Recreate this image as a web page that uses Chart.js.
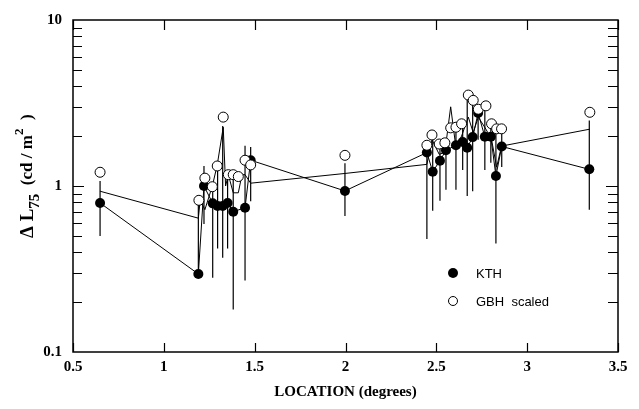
<!DOCTYPE html>
<html><head><meta charset="utf-8">
<script src="https://cdn.jsdelivr.net/npm/chart.js@4.4.0/dist/chart.umd.min.js"></script>
<style>html,body{margin:0;padding:0;background:#fff;}canvas{display:block;}</style>
</head><body>
<canvas id="c" width="639" height="409"></canvas>
<script>
// ---- data ----
const xTickValues = [0.5, 1, 1.5, 2, 2.5, 3, 3.5];
const yTickValues = [0.1, 1, 10];

const kthX  = [0.649, 1.19, 1.221, 1.269, 1.296, 1.324, 1.351, 1.382, 1.447, 1.478, 1.997,
               2.448, 2.48, 2.52, 2.553, 2.608, 2.645, 2.67, 2.70, 2.73, 2.767, 2.80, 2.828, 2.86, 3.342];
const kthY  = [0.79, 0.295, 1.0, 0.786, 0.758, 0.758, 0.79, 0.70, 0.74, 1.43, 0.934,
               1.59, 1.22, 1.42, 1.64, 1.76, 1.84, 1.70, 1.97, 2.75, 1.98, 1.98, 1.15, 1.73, 1.26];
const kthLo = [0.50, 0.295, 0.59, 0.28, 0.42, 0.37, 0.42, 0.18, 0.27, 0.81, 0.66,
               0.48, 0.71, 0.815, 0.95, 0.95, 1.25, 0.87, 0.93, 1.9, 1.25, 1.38, 0.45, 1.3, 0.72];
const kthHi = [1.07, 0.80, 1.32, 0.99, 1.30, 2.30, 1.15, 1.15, 1.75, 1.72, 1.37,
               1.75, 2.0, 1.79, 1.82, 2.24, 2.37, 3.4, 3.2, 2.9, 3.0, 2.37, 2.2, 2.2, 2.48];

const gbhX = [0.649, 1.193, 1.226, 1.267, 1.294, 1.327, 1.355, 1.382, 1.41, 1.447, 1.478, 1.997,
              2.448, 2.476, 2.516, 2.547, 2.579, 2.608, 2.639, 2.676, 2.703, 2.731, 2.773, 2.804, 2.832, 2.859, 3.345];
const gbhY = [1.21, 0.82, 1.115, 0.99, 1.32, 2.60, 1.17, 1.17, 1.14, 1.43, 1.34, 1.53,
              1.76, 2.03, 1.79, 1.82, 2.24, 2.26, 2.37, 3.53, 3.28, 2.90, 3.04, 2.37, 2.21, 2.21, 2.78];

const refX = [0.649, 1.19, 1.20, 1.226, 1.267, 1.294, 1.327, 1.34, 1.355, 1.382, 1.41, 1.43, 1.447, 1.478, 1.997,
              2.448, 2.476, 2.516, 2.547, 2.579, 2.608, 2.639, 2.676, 2.703, 2.731, 2.773, 2.804, 2.832, 2.859, 3.345];
const refY = [0.93, 0.64, 0.82, 0.72, 1.0, 1.34, 2.26, 1.0, 1.17, 0.91, 0.91, 1.17, 1.17, 1.04, 1.19,
              1.35, 1.9, 1.55, 1.6, 3.0, 1.7, 2.0, 2.6, 2.1, 2.6, 2.2, 1.9, 1.3, 1.74, 2.2];

const seriesNames = ['KTH', 'GBH  scaled'];
const xTitle = 'LOCATION (degrees)';

const pts = (xs, ys) => xs.map((x, i) => ({x: x, y: ys[i]}));

const serif = '"Liberation Serif", "Times New Roman", serif';
const sans = '"Liberation Sans", Arial, sans-serif';

// error bars
const errorBars = {
  id: 'errorBars',
  beforeDatasetsDraw(chart) {
    const {ctx, scales: {x, y}} = chart;
    ctx.save();
    ctx.beginPath();
    ctx.rect(chart.chartArea.left, chart.chartArea.top, chart.chartArea.width, chart.chartArea.height);
    ctx.clip();
    ctx.strokeStyle = '#000';
    ctx.lineWidth = 1.2;
    kthX.forEach((v, i) => {
      const px = x.getPixelForValue(v);
      ctx.beginPath();
      ctx.moveTo(px, y.getPixelForValue(kthLo[i]));
      ctx.lineTo(px, y.getPixelForValue(kthHi[i]));
      ctx.stroke();
    });
    ctx.restore();
  }
};

// frame, inward ticks, legend and y-title
const decor = {
  id: 'decor',
  afterDraw(chart) {
    const {ctx, chartArea: a, scales: {x, y}} = chart;
    ctx.save();
    ctx.strokeStyle = '#000';
    ctx.lineWidth = 1.5;
    ctx.strokeRect(a.left, a.top, a.right - a.left, a.bottom - a.top);
    ctx.lineWidth = 1.2;
    ctx.beginPath();
    xTickValues.forEach(v => {
      const px = Math.round(x.getPixelForValue(v)) + 0.5;
      ctx.moveTo(px, a.bottom); ctx.lineTo(px, a.bottom - 9);
      ctx.moveTo(px, a.top); ctx.lineTo(px, a.top + 10);
    });
    [0.1, 1].forEach(d => {
      for (let k = 1; k <= 9; k++) {
        if (d === 0.1 && k === 1) continue;
        const py = Math.round(y.getPixelForValue(k * d)) + 0.5;
        const len = k === 1 ? 11 : 9;
        ctx.moveTo(a.left, py); ctx.lineTo(a.left + len, py);
        ctx.moveTo(a.right, py); ctx.lineTo(a.right - len - 1, py);
      }
    });
    ctx.stroke();

    // legend
    ctx.fillStyle = '#000';
    ctx.beginPath(); ctx.arc(453, 273, 5, 0, Math.PI * 2); ctx.fill();
    ctx.fillStyle = '#fff'; ctx.lineWidth = 1;
    ctx.beginPath(); ctx.arc(453, 301, 4.5, 0, Math.PI * 2); ctx.fill(); ctx.stroke();
    ctx.fillStyle = '#000';
    ctx.font = '13px ' + sans;
    ctx.textBaseline = 'middle';
    ctx.textAlign = 'left';
    ctx.fillText(seriesNames[0], 476, 274);
    ctx.fillText(seriesNames[1], 476, 302);

    // y title with sub/superscripts
    ctx.translate(33, 238);
    ctx.rotate(-Math.PI / 2);
    ctx.textBaseline = 'alphabetic';
    const segs = [
      {t: '\u0394 L', f: 'bold 19px ' + serif, dy: 0},
      {t: '75', f: 'bold 15px ' + serif, dy: 6},
      {t: '  (cd / m', f: 'bold 17px ' + serif, dy: -1},
      {t: '2', f: 'bold 13px ' + serif, dy: -10},
      {t: '  )', f: 'bold 17px ' + serif, dy: -1}
    ];
    let cx = 0;
    segs.forEach(s => {
      ctx.font = s.f;
      ctx.fillText(s.t, cx, s.dy);
      cx += ctx.measureText(s.t).width;
    });
    ctx.restore();
  }
};

new Chart(document.getElementById('c'), {
  type: 'scatter',
  data: {
    datasets: [
      {
        label: seriesNames[1], data: pts(gbhX, gbhY), order: 0, showLine: false,
        pointRadius: 5, pointBackgroundColor: '#fff', pointBorderColor: '#000', pointBorderWidth: 1
      },
      {
        label: seriesNames[0], data: pts(kthX, kthY), order: 1, showLine: true,
        borderColor: '#000', borderWidth: 1, pointRadius: 5,
        pointBackgroundColor: '#000', pointBorderColor: '#000', pointBorderWidth: 0
      },
      {
        label: 'ref', data: pts(refX, refY), order: 2, showLine: true,
        borderColor: '#000', borderWidth: 1, pointRadius: 0
      }
    ]
  },
  options: {
    responsive: false,
    animation: false,
    devicePixelRatio: 1,
    layout: {padding: {top: 13, right: 21, left: 0, bottom: 0}},
    plugins: {legend: {display: false}, tooltip: {enabled: false}},
    scales: {
      x: {
        type: 'linear', min: 0.5, max: 3.5,
        afterBuildTicks: s => { s.ticks = xTickValues.map(v => ({value: v})); },
        afterFit: s => { s.height = 57; },
        grid: {display: false, drawTicks: false},
        border: {display: false},
        ticks: {
          color: '#000', padding: 6, maxRotation: 0, autoSkip: false,
          font: {family: serif, size: 15, weight: 'bold'},
          callback: v => String(v)
        },
        title: {
          display: true, text: xTitle, color: '#000',
          font: {family: serif, size: 15, weight: 'bold'},
          padding: {top: 4, bottom: 8}
        }
      },
      y: {
        type: 'logarithmic', min: 0.1, max: 10,
        afterBuildTicks: s => { s.ticks = yTickValues.map(v => ({value: v})); },
        afterFit: s => { s.width = 73; },
        grid: {display: false, drawTicks: false},
        border: {display: false},
        ticks: {
          color: '#000', padding: 11,
          font: {family: serif, size: 15, weight: 'bold'},
          callback: v => String(v)
        }
      }
    }
  },
  plugins: [errorBars, decor]
});
</script>
</body></html>
